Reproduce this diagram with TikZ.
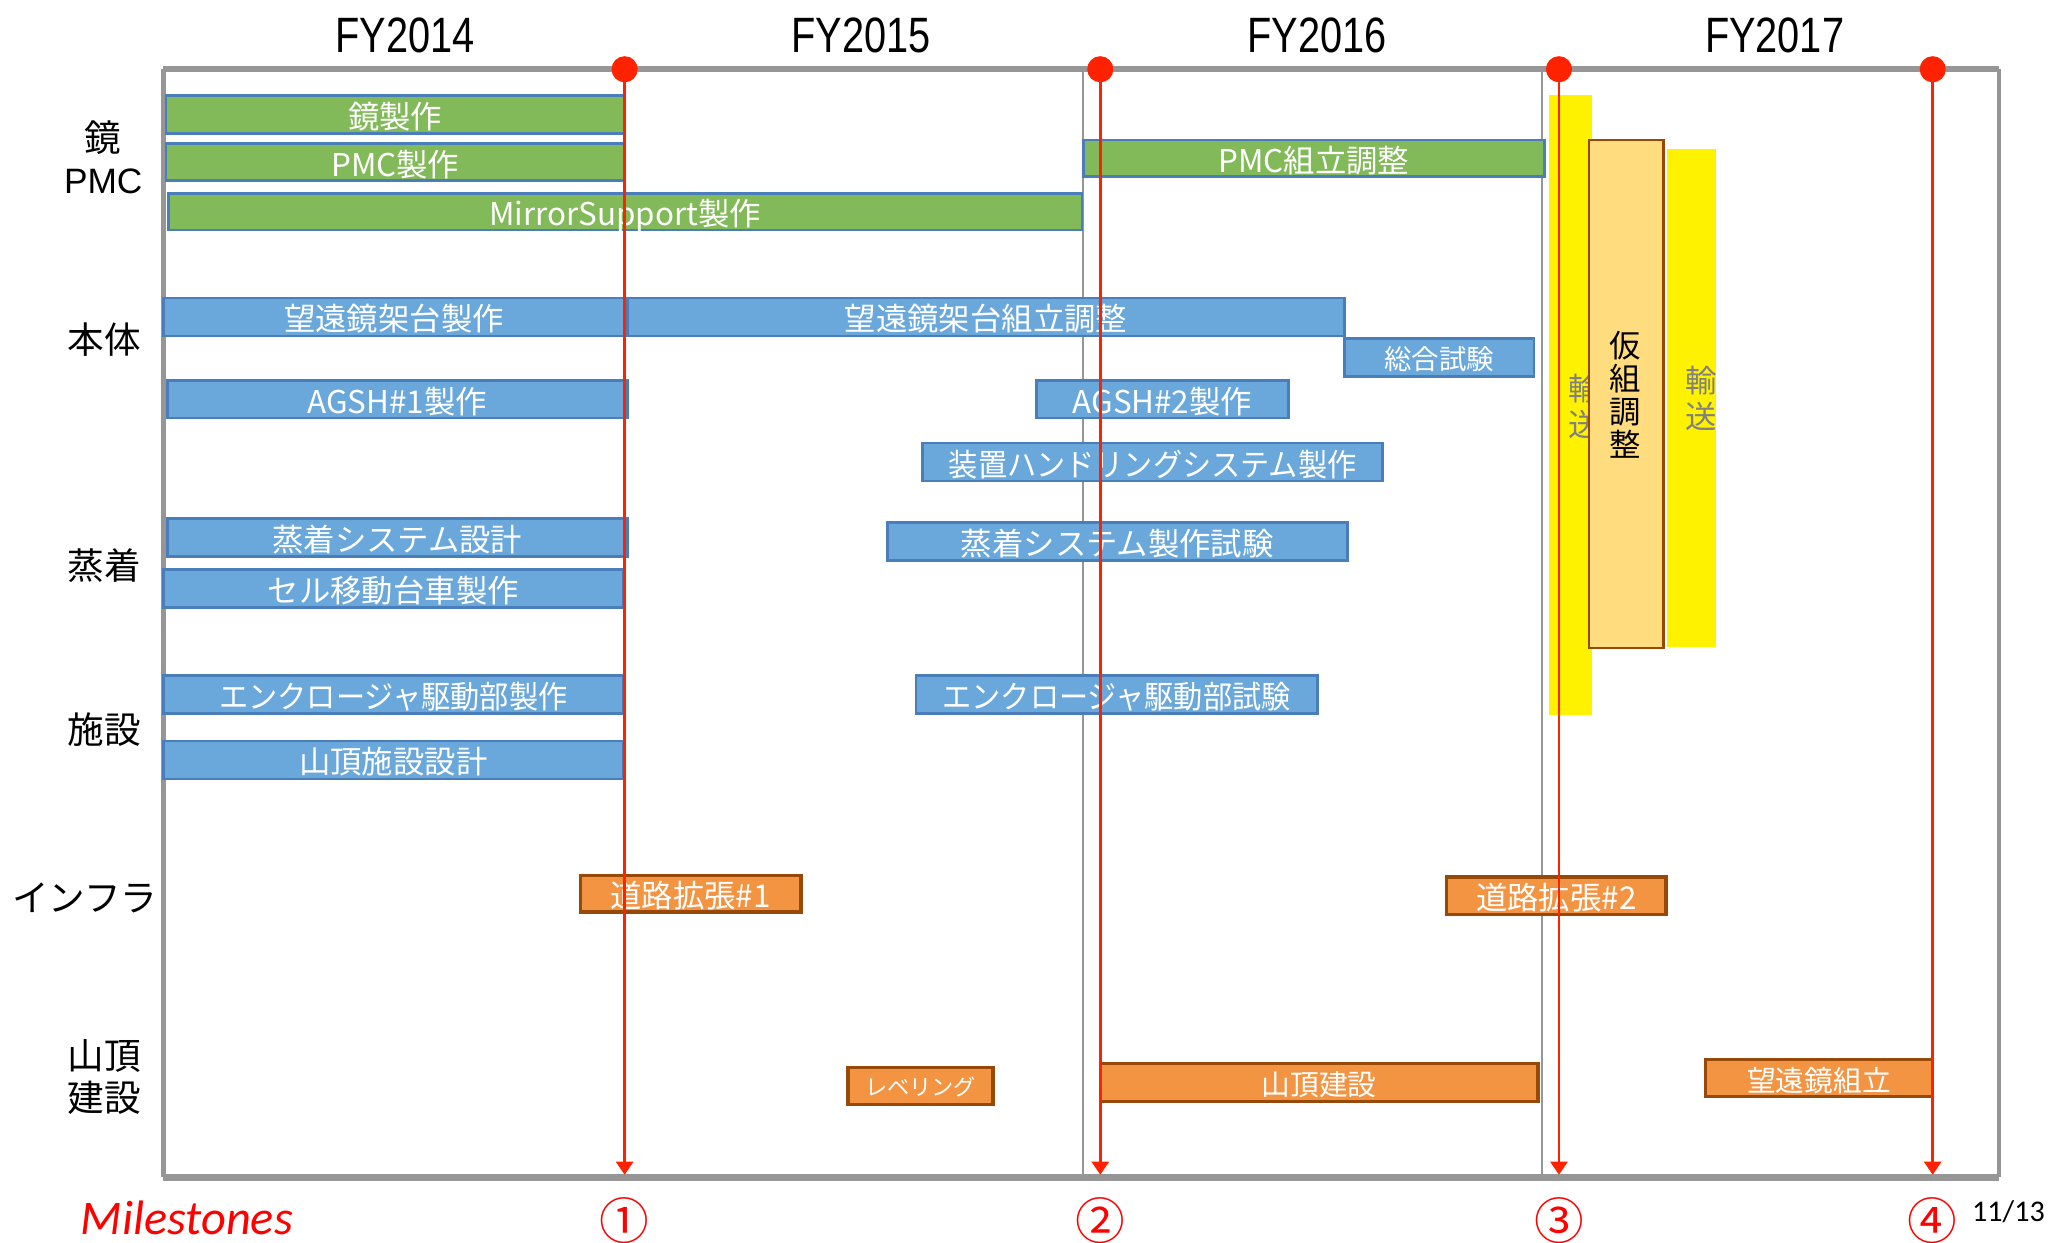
\documentclass[tikz,border=0pt]{standalone}
\usepackage{fontspec}
\setmainfont{Liberation Sans}
\newfontfamily\jpfont{Noto Sans CJK JP}
\newfontfamily\jpnarrow[FakeStretch=0.93]{Noto Sans CJK JP}
\newfontfamily\narrowfont[FakeStretch=0.8]{Liberation Sans}
\newfontfamily\carlitofont{Carlito}
\usetikzlibrary{arrows.meta}
\definecolor{gfill}{RGB}{130,186,89}
\definecolor{bfill}{RGB}{106,168,219}
\definecolor{bborder}{RGB}{74,126,187}
\definecolor{ofill}{RGB}{243,148,67}
\definecolor{oborder}{RGB}{152,72,7}
\definecolor{lofill}{RGB}{255,220,125}
\definecolor{framegray}{RGB}{150,150,150}
\definecolor{msred}{RGB}{255,34,0}
\definecolor{txtgray}{RGB}{128,128,128}
\newcommand\taskbar[7]{\node[#2, minimum width={(#5-#3)*0.5pt}, minimum height={(#6-#4)*0.5pt}] (#1) at ({(#3+#5)/2},{(#4+#6)/2}) {#7};}
\tikzset{
  barbase/.style={draw, inner sep=0pt, outer sep=0pt, text=white, text height=11.4pt, text depth=0.6pt, font=\jpfont\fontsize{12}{14}\selectfont},
  greenbar/.style={barbase, fill=gfill, draw=bborder, line width=1pt},
  bluebar/.style={barbase, fill=bfill, draw=bborder, line width=1pt},
  orangebar/.style={barbase, fill=ofill, draw=oborder, line width=1.3pt},
  smalltext/.style={text height=0.95*#1, text depth=0.05*#1, font=\jpfont\fontsize{#1}{#1}\selectfont},
  yellowbar/.style={inner sep=0pt, outer sep=0pt, fill=yellow, draw=none},
  karibox/.style={inner sep=0pt, outer sep=0pt, fill=lofill, draw=oborder, line width=1pt},
  yearlabel/.style={font=\narrowfont\fontsize{19}{20}\selectfont},
  rowlabel/.style={font=\jpfont\fontsize{14}{15}\selectfont, align=center},
  framebar/.style={draw=framegray},
  divider/.style={draw=framegray, line width=0.7pt},
  redline/.style={draw=msred, line width=1pt, -{Triangle[length=5pt,width=6.5pt]}},
  mdot/.style={circle, fill=msred, inner sep=0pt, minimum size=10pt},
  circnum/.style={text=red, inner sep=0pt, font=\jpfont\fontsize{19}{19}\selectfont},
  vtext/.style={font=\jpfont\fontsize{12}{14}\selectfont, align=center, inner sep=0pt}
}
\begin{document}
\begin{tikzpicture}[x=0.5pt,y=-0.5pt]
\useasboundingbox (0,0) rectangle (1568,951);
% frame
\coordinate (tl) at (125,53);
\coordinate (tr) at (1530,53);
\coordinate (bl) at (125,901);
\coordinate (br) at (1530,901);
\coordinate (dv1t) at (829,53);
\coordinate (dv1b) at (829,901);
\coordinate (dv2t) at (1180,53);
\coordinate (dv2b) at (1180,901);
\draw[divider] (dv1t) -- (dv1b);
\draw[divider] (dv2t) -- (dv2b);
\draw[framebar, line width=1.5pt] (tr) -- (br);
\draw[framebar, line width=2pt] (tl) -- (bl);
\draw[framebar, line width=2.2pt] (tl) -- (tr);
\draw[framebar, line width=2.6pt] (bl) -- (br);
% year labels
\node[yearlabel] (fy14) at (310,27) {FY2014};
\node[yearlabel] (fy15) at (659,27) {FY2015};
\node[yearlabel] (fy16) at (1008,27) {FY2016};
\node[yearlabel] (fy17) at (1358,27) {FY2017};
% row labels
\node[rowlabel] (rl1) at (79,105) {鏡};
\node[font=\fontsize{13.5}{15}\selectfont] (rl1b) at (79,139) {PMC};
\node[rowlabel] (rl2) at (80,260) {本体};
\node[rowlabel] (rl3) at (80,433) {蒸着};
\node[rowlabel] (rl4) at (80,558) {施設};
\node[rowlabel] (rl5) at (65,687) {インフラ};
\node[rowlabel] (rl6) at (80,808) {山頂};
\node[rowlabel] (rl6b) at (80,840) {建設};
% yellow transport bars and assembly box
\taskbar{y1}{yellowbar}{1185}{73}{1218}{547}{}
\taskbar{y2}{yellowbar}{1276}{114}{1313}{495}{}
\node[vtext, text=txtgray] (t1) at (1212,311) {輸\\送};
\taskbar{kari}{karibox}{1216}{107}{1273}{496}{}
\node[vtext, font=\jpfont\fontsize{12}{12.7}\selectfont] (kt) at (1244,302) {仮\\組\\調\\整};
\node[vtext, text=txtgray] (t2) at (1302,305) {輸\\送};
% green bars
\taskbar{b1}{greenbar}{127}{73}{478}{102}{鏡製作}
\taskbar{b2}{greenbar}{127}{110}{478}{138}{PMC製作}
\taskbar{b3}{greenbar}{129}{148}{828}{176}{MirrorSupport製作}
\taskbar{b4}{greenbar}{829}{107}{1182}{135}{PMC組立調整}
% blue bars
\taskbar{b5}{bluebar}{125}{228}{478}{257}{望遠鏡架台製作}
\taskbar{b6}{bluebar}{480}{228}{1029}{257}{望遠鏡架台組立調整}
\taskbar{b7}{bluebar, smalltext=10.5pt}{1029}{259}{1174}{288}{総合試験}
\taskbar{b8}{bluebar}{128}{291}{480}{320}{AGSH\#1製作}
\taskbar{b9}{bluebar}{793}{291}{986}{320}{AGSH\#2製作}
\taskbar{b10}{bluebar}{706}{339}{1058}{368}{\jpnarrow 装置ハンドリングシステム製作}
\taskbar{b11}{bluebar}{128}{397}{480}{426}{蒸着システム設計}
\taskbar{b12}{bluebar}{679}{400}{1031}{429}{蒸着システム製作試験}
\taskbar{b13}{bluebar}{125}{436}{477}{465}{セル移動台車製作}
\taskbar{b14}{bluebar}{125}{517}{477}{546}{\jpnarrow エンクロージャ駆動部製作}
\taskbar{b15}{bluebar}{701}{517}{1008}{546}{\jpnarrow エンクロージャ駆動部試験}
\taskbar{b16}{bluebar}{125}{567}{477}{596}{山頂施設設計}
% orange bars
\taskbar{o1}{orangebar}{444}{670}{613}{698}{道路拡張\#1}
\taskbar{o2}{orangebar}{1107}{671}{1275}{700}{道路拡張\#2}
\taskbar{o3}{orangebar, smalltext=8.5pt}{649}{817}{760}{845}{レベリング}
\taskbar{o4}{orangebar, smalltext=11pt}{842}{814}{1177}{843}{山頂建設}
\taskbar{o5}{orangebar, smalltext=11pt}{1305}{811}{1479}{839}{望遠鏡組立}
% milestones
\node[mdot] (d1) at (478,53) {};
\node[mdot] (d2) at (842,53) {};
\node[mdot] (d3) at (1193,53) {};
\node[mdot] (d4) at (1479,53) {};
\coordinate (e1) at (478,899);
\coordinate (e2) at (842,899);
\coordinate (e3) at (1193,899);
\coordinate (e4) at (1479,899);
\draw[redline] (d1.center) -- (e1);
\draw[redline] (d2.center) -- (e2);
\draw[redline] (d3.center) -- (e3);
\draw[redline] (d4.center) -- (e4);
\node[text=red, inner sep=0pt, font=\carlitofont\itshape\fontsize{18.5}{19}\selectfont] (ms) at (143,932) {Milestones};
\node[circnum] (c1) at (478,934) {①};
\node[circnum] (c2) at (842,934) {②};
\node[circnum] (c3) at (1193,934) {③};
\node[circnum] (c4) at (1479,934) {④};
\node[font=\carlitofont\fontsize{11.5}{12}\selectfont] (pg) at (1537,927) {11/13};
\end{tikzpicture}
\end{document}
